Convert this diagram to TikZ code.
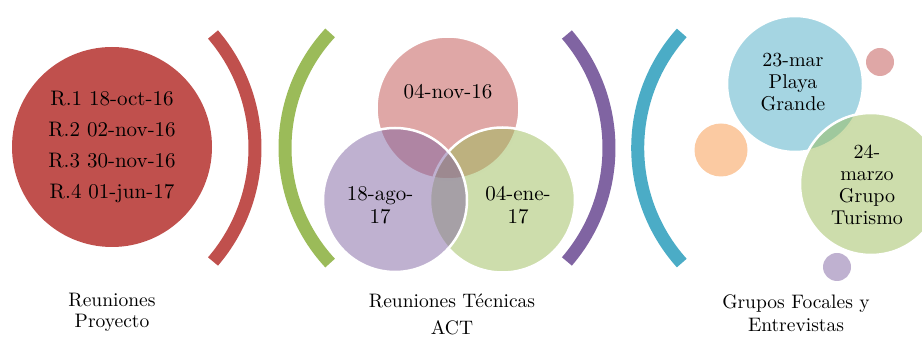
\documentclass[tikz,border=0pt]{standalone}
\usepackage{fontspec}
\setmainfont{lmroman10-regular.otf}
\usepackage{tikz}
\usetikzlibrary{calc}
\definecolor{rojo}{HTML}{C0504D}
\definecolor{verde}{HTML}{9BBB59}
\definecolor{morado}{HTML}{8064A2}
\definecolor{azul}{HTML}{4BACC6}
\definecolor{naranja}{HTML}{F79646}

\begin{document}
\begin{tikzpicture}[x=1pt,y=1pt,
  arco/.style={line width=13pt},
  burbuja/.style={circle,inner sep=0pt,fill opacity=0.5,draw=white,line width=2.5pt},
  punto/.style={circle,inner sep=0pt,fill opacity=0.5},
  texto/.style={align=center,font=\fontsize{21}{23}\selectfont},
  textob/.style={align=center,font=\fontsize{20}{22}\selectfont},
  pie/.style={align=center,font=\fontsize{19.5}{21}\selectfont}]
\useasboundingbox (0,0) rectangle (922,337);
\node[circle,fill=rojo,minimum size=200pt,align=center,font=\fontsize{21}{31}\selectfont] (proyecto) at (112,190) {R.1 18-oct-16\\R.2 02-nov-16\\R.3 30-nov-16\\R.4 01-jun-17};
\draw[arco,rojo] ([shift={(-40.6:174.4)}]80.6,189) arc[start angle=-40.6,end angle=40.6,radius=174.4];
\draw[arco,verde] ([shift={(137.2:169.4)}]454.4,189) arc[start angle=137.2,end angle=222.8,radius=169.4];
\draw[arco,morado] ([shift={(-40.7:174)}]435,189) arc[start angle=-40.7,end angle=40.7,radius=174];
\draw[arco,azul] ([shift={(138.1:172.3)}]810,189) arc[start angle=138.1,end angle=221.9,radius=172.3];
\node[burbuja,fill=rojo,minimum size=143pt] (nov) at (448,229) {};
\node[burbuja,fill=verde,minimum size=145pt] (ene) at (502.5,137) {};
\node[burbuja,fill=morado,minimum size=144pt] (ago) at (395,137) {};
\node[texto] (tnov) at (448,245) {04-nov-16};
\node[texto] (tago) at (380,131.5) {18-ago-\\17};
\node[texto] (tene) at (518,131.5) {04-ene-\\17};
\node[burbuja,fill=azul,minimum size=136pt] (playa) at (795,253) {};
\node[burbuja,fill=verde,minimum size=142pt] (turismo) at (871,153) {};
\node[punto,fill=rojo,minimum size=28pt] (p1) at (880,275) {};
\node[punto,fill=naranja,minimum size=53pt] (p2) at (721,187) {};
\node[punto,fill=morado,minimum size=28pt] (p3) at (837,70) {};
\node[textob] (tplaya) at (793,255) {23-mar\\Playa\\Grande};
\node[textob] (tturismo) at (867,152) {24-\\marzo\\Grupo\\Turismo};
\node[pie] (lproyecto) at (112,24.5) {Reuniones\\Proyecto};
\node[pie] (ltecnicas) at (452,23) {Reuniones Técnicas\\[6pt]ACT};
\node[pie] (lgrupos) at (796,23.5) {Grupos Focales y\\[2pt]Entrevistas};
\end{tikzpicture}
\end{document}
